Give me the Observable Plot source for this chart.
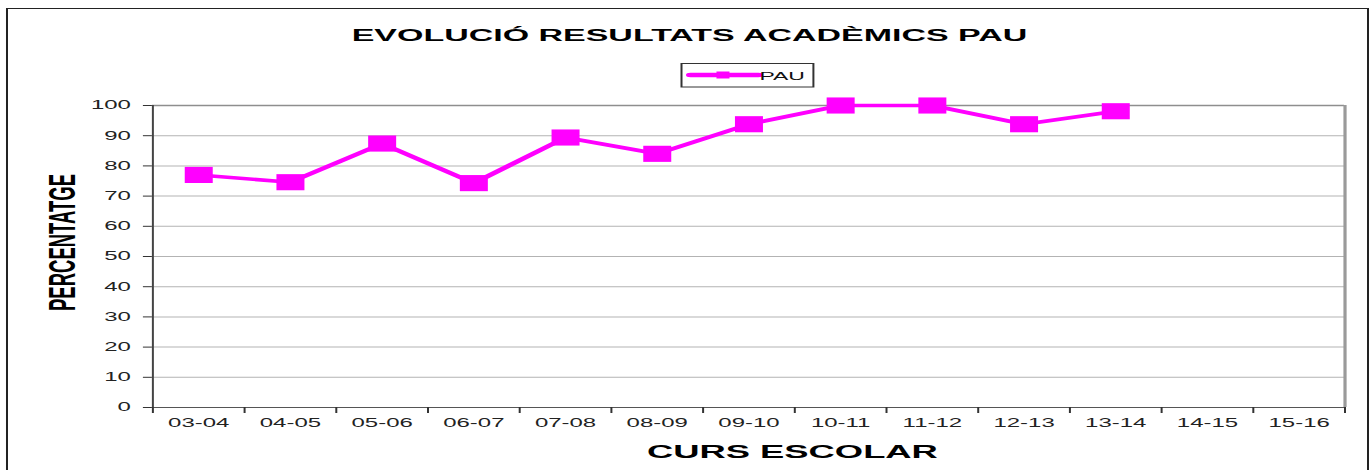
<!DOCTYPE html>
<html><head><meta charset="utf-8">
<script src="https://cdn.jsdelivr.net/npm/d3@7"></script>
<script src="https://cdn.jsdelivr.net/npm/@observablehq/plot@0.6"></script>
<style>
html,body{margin:0;padding:0;background:#fff;}
#wrap{position:relative;width:1371px;height:470px;overflow:hidden;background:#fff;}
#inner{position:absolute;left:0;top:0;width:686px;height:470px;transform-origin:0 0;transform:scaleX(1.99854);font-family:"Liberation Sans",Arial,sans-serif;}
#border{position:absolute;left:3px;top:8px;width:679.5px;height:520px;border:1px solid #222;}
#chart{position:absolute;left:0;top:95px;}
#head{position:absolute;left:0;top:0;}
</style></head><body>
<div id="wrap"><div id="inner">
<div id="border"></div>
<svg id="head" width="686" height="95" font-family="Liberation Sans, Arial, sans-serif">
  <text x="345" y="41" text-anchor="middle" font-size="17" font-weight="bold" fill="#000">EVOLUCIÓ RESULTATS ACADÈMICS PAU</text>
  <rect x="341" y="63.5" width="66" height="23.5" fill="#fff" stroke="#333" stroke-width="1"/>
  <line x1="345.5" y1="75" x2="379.5" y2="75" stroke="#ff00ff" stroke-width="4.5" stroke-linecap="round"/>
  <rect x="358.5" y="71.5" width="6.5" height="7" fill="#ff00ff"/>
  <text x="380" y="80" font-size="11.5" fill="#111">PAU</text>
</svg>
<div id="chart"></div>
</div></div>
<script>
const categories = ["03-04","04-05","05-06","06-07","07-08","08-09","09-10","10-11","11-12","12-13","13-14","14-15","15-16"];
const pauValues = [77, 74.6, 87.4, 74.3, 89.4, 84, 93.8, 100, 100, 93.8, 98.1];
const yTicks = [0,10,20,30,40,50,60,70,80,90,100];
const gridTicks = [10,20,30,40,50,60,70,80,90];

const rows = pauValues.map((v, i) => ({cat: categories[i], pos: i + 0.5, value: v}));
const labelPos = categories.map((c, i) => i + 0.5);
const boundaryPos = categories.map((c, i) => i).concat([categories.length]);

const rectSymbol = {
  draw(ctx, size) {
    const s = Math.sqrt(size);
    const w = s * 0.93, h = s * 1.07;
    ctx.moveTo(-w/2, -h/2); ctx.lineTo(w/2, -h/2); ctx.lineTo(w/2, h/2); ctx.lineTo(-w/2, h/2); ctx.closePath();
  }
};

const chart = Plot.plot({
  width: 686,
  height: 375,
  marginTop: 10,
  marginBottom: 63,
  marginLeft: 76,
  marginRight: 13.5,
  style: {fontFamily: "Liberation Sans, Arial, sans-serif", background: "transparent", color: "#222"},
  x: {type: "linear", domain: [0, categories.length], axis: null},
  y: {domain: [0, 100], axis: null},
  marks: [
    Plot.gridY(gridTicks, {stroke: "#b3b3b3", strokeOpacity: 1, strokeWidth: 1}),
    Plot.ruleY([100], {stroke: "#8e8e8e", strokeWidth: 1.4}),
    Plot.ruleX([categories.length], {stroke: "#9a9a9a", strokeWidth: 1.6}),
    Plot.ruleX([0], {stroke: "#444", strokeWidth: 1}),
    Plot.ruleY([0], {stroke: "#555", strokeWidth: 1.2}),
    Plot.axisY({ticks: yTicks, tickSize: 4.5, tickPadding: 6.5, fontSize: 12, label: null, stroke: "#333", fill: "#222"}),
    Plot.axisX({ticks: boundaryPos, tickSize: 6, tickFormat: () => "", label: null, stroke: "#333"}),
    Plot.axisX({ticks: labelPos, tickSize: 0, tickPadding: 11, fontSize: 12, label: null, fill: "#222",
      tickFormat: d => categories[Math.floor(d)]}),
    Plot.lineY(rows, {x: "pos", y: "value", stroke: "#ff00ff", strokeWidth: 3.6, curve: "linear"}),
    Plot.dot(rows, {x: "pos", y: "value", symbol: rectSymbol, r: 8.5, fill: "#ff00ff", stroke: "none"}),
    Plot.text(["PERCENTATGE"], {frameAnchor: "left", textAnchor: "middle", lineAnchor: "middle", rotate: -90, dx: -45, dy: -14, fontSize: 18.5, fontWeight: "bold", fill: "#000", text: d => d}),
    Plot.text(["CURS ESCOLAR"], {frameAnchor: "bottom", dx: 21.75, dy: 44.5, lineAnchor: "middle", fontSize: 18.2, fontWeight: "bold", fill: "#000", text: d => d})
  ]
});
document.getElementById("chart").appendChild(chart);
</script>
</body></html>
